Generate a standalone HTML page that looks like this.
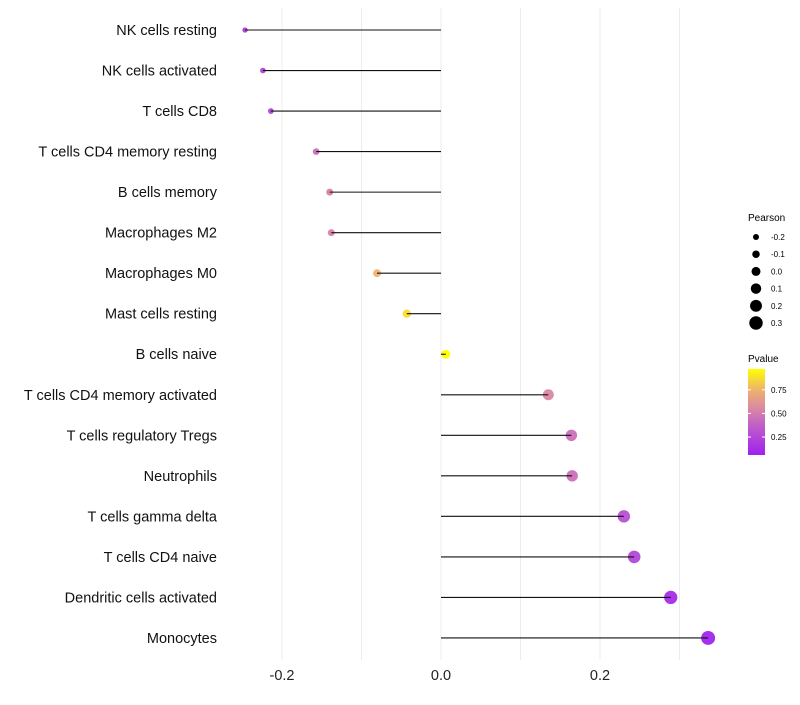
<!DOCTYPE html>
<html><head><meta charset="utf-8"><style>
body{margin:0;background:#fff;font-family:"Liberation Sans",sans-serif}
</style></head><body>
<svg id="chart" width="800" height="700" xmlns="http://www.w3.org/2000/svg" font-family="Liberation Sans, sans-serif">
<defs><linearGradient id="pg" x1="0" y1="1" x2="0" y2="0">
<stop offset="0" stop-color="#A020F0"/><stop offset="0.35" stop-color="#C060C8"/><stop offset="0.55" stop-color="#DC8AA0"/><stop offset="0.75" stop-color="#EDB070"/><stop offset="1" stop-color="#FFFF00"/></linearGradient></defs>
<g id="grid"></g><g id="dots"></g><g id="marks"></g><g id="ylabels"></g><g id="xlabels"></g>
<g>
<text x="748" y="221" font-size="10">Pearson</text>
<g id="sizeleg"></g>
<text x="748" y="362" font-size="10">Pvalue</text>
<rect x="748" y="369" width="17" height="86" fill="url(#pg)"/>
<g id="colleg"></g>
</g>
</svg>
<script>
const categories=["NK cells resting","NK cells activated","T cells CD8","T cells CD4 memory resting","B cells memory","Macrophages M2","Macrophages M0","Mast cells resting","B cells naive","T cells CD4 memory activated","T cells regulatory  Tregs ","Neutrophils","T cells gamma delta","T cells CD4 naive","Dendritic cells activated","Monocytes"];
const pearson=[-0.2465,-0.224,-0.214,-0.157,-0.14,-0.138,-0.0805,-0.043,0.006,0.135,0.164,0.165,0.230,0.243,0.289,0.336];
const pvalues=[0.2,0.22,0.25,0.45,0.52,0.52,0.75,0.87,0.97,0.55,0.45,0.45,0.3,0.26,0.12,0.08];
const xTicks=[-0.2,0.0,0.2];
const xTickLabels=["-0.2","0.0","0.2"];
const sizeLegend=[-0.2,-0.1,0.0,0.1,0.2,0.3];
const colorLegend=[0.25,0.5,0.75];
const NS="http://www.w3.org/2000/svg";
const xS=v=>441+v*795;
const yS=i=>30+i*40.53;
const rS=v=>Math.max(2.4,4.5+7.4*v);
const cbY=p=>455-(p-0.06)*(86/0.91);
const stops=[[0.06,[160,32,240]],[0.38,[192,96,200]],[0.56,[220,138,160]],[0.74,[237,176,112]],[0.97,[255,255,0]]];
function col(p){p=Math.min(Math.max(p,0.06),0.97);for(let i=0;i<stops.length-1;i++){const[a,ca]=stops[i],[b,cb]=stops[i+1];if(p<=b){const t=(p-a)/(b-a);return 'rgb('+ca.map((c,k)=>Math.round(c+(cb[k]-c)*t)).join(',')+')';}}return 'rgb(255,255,0)';}
function mk(t,a,parent){const e=document.createElementNS(NS,t);for(const k in a)e.setAttribute(k,a[k]);document.getElementById(parent).appendChild(e);return e;}
[-0.2,-0.1,0,0.1,0.2,0.3].forEach(v=>{const g=mk('line',{x1:xS(v),x2:xS(v),y1:8,y2:660,stroke:'#ececec','stroke-width':1},'grid');

});
categories.forEach((c,i)=>{const y=yS(i);
const d=mk('circle',{cx:xS(pearson[i]),cy:y,r:rS(pearson[i]),fill:col(pvalues[i]),'fill-opacity':0.95},'dots');


const l=mk('line',{x1:xS(0),x2:xS(pearson[i]),y1:y,y2:y,stroke:'#111','stroke-width':1.1},'marks');


const t=mk('text',{x:217,y:y+5,'text-anchor':'end','font-size':14.5,fill:'#111'},'ylabels');t.textContent=c;

});
xTicks.forEach((v,i)=>{const t=mk('text',{x:xS(v),y:680,'text-anchor':'middle','font-size':14.5,fill:'#222'},'xlabels');t.textContent=xTickLabels[i];

});
sizeLegend.forEach((v,i)=>{const y=237+i*17.2;
const c=mk('circle',{cx:756,cy:y,r:rS(v),fill:'#000'},'sizeleg');


const t=mk('text',{x:771,y:y+3,'font-size':8},'sizeleg');t.textContent=v.toFixed(1);

});
colorLegend.forEach(p=>{const y=cbY(p);
const a=mk('line',{x1:748,x2:751,y1:y,y2:y,stroke:'#fff'},'colleg');
const b=mk('line',{x1:762,x2:765,y1:y,y2:y,stroke:'#fff'},'colleg');
const t=mk('text',{x:771,y:y+3,'font-size':8},'colleg');t.textContent=p.toFixed(2);

});
</script>
</body></html>
